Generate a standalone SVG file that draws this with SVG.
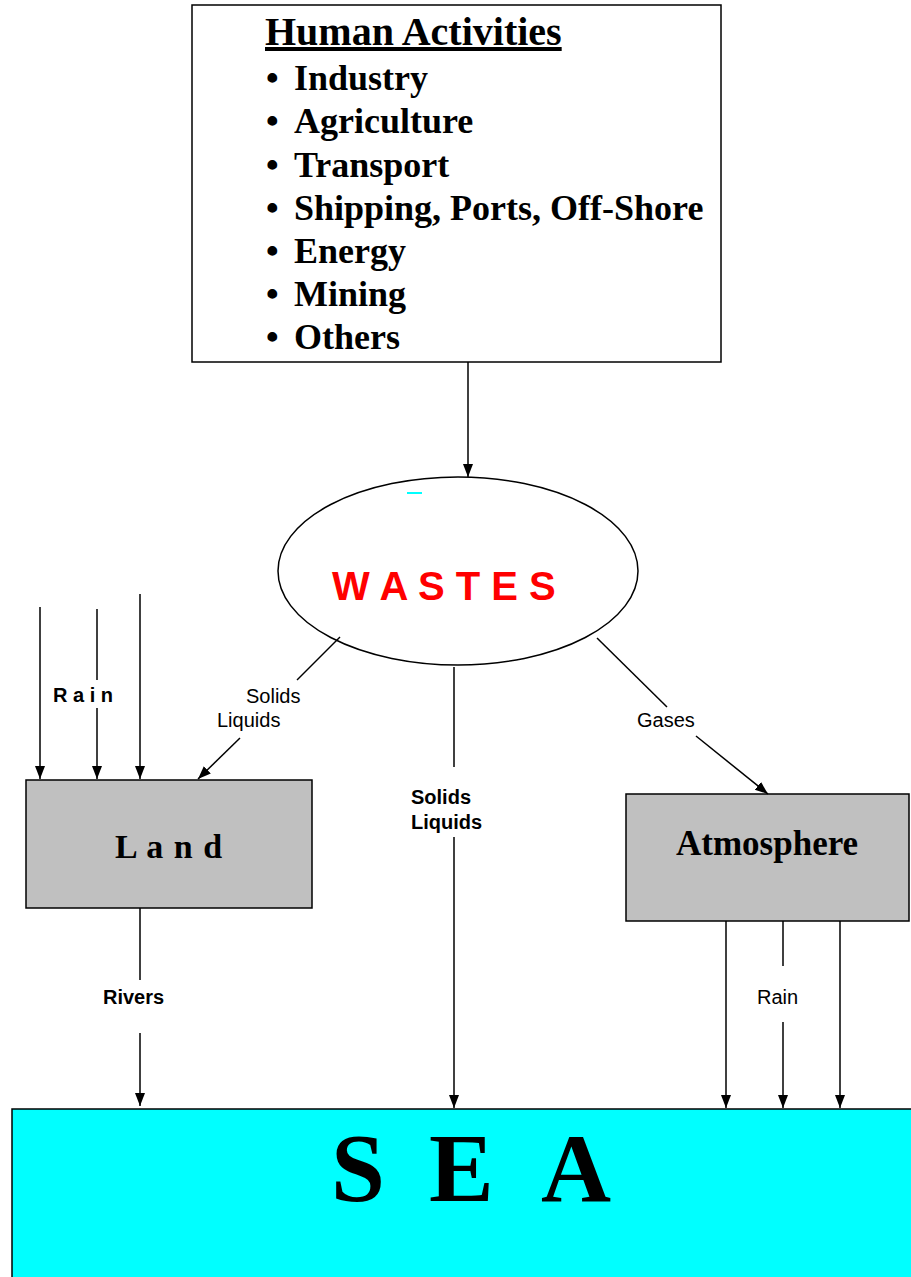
<svg xmlns="http://www.w3.org/2000/svg" width="911" height="1277" viewBox="0 0 911 1277">
<style>
.serif{font-family:"Liberation Serif","Times New Roman",serif;font-weight:bold;fill:#000}
.sans{font-family:"Liberation Sans",Arial,sans-serif;fill:#000}
.b{font-weight:bold}
.ln{stroke:#000;stroke-width:1.5;fill:none}
.box{stroke:#000;stroke-width:1.5}
</style>
<defs>
<marker id="ah" markerUnits="userSpaceOnUse" markerWidth="14" markerHeight="12" refX="13" refY="5" orient="auto">
<path d="M0,0 L13,5 L0,10 z" fill="#000"/>
</marker>
</defs>
<rect width="911" height="1277" fill="#fff"/>

<g id="human-activities">
<rect x="192" y="5" width="529" height="357" fill="#fff" class="box"/>
<text class="serif" x="265" y="45" font-size="40" text-decoration="underline">Human Activities</text>
<g class="serif" font-size="36">
<text x="266" y="90">•</text><text x="294" y="90">Industry</text>
<text x="266" y="133">•</text><text x="294" y="133">Agriculture</text>
<text x="266" y="177">•</text><text x="294" y="177">Transport</text>
<text x="266" y="220">•</text><text x="294" y="220">Shipping, Ports, Off-Shore</text>
<text x="266" y="263">•</text><text x="294" y="263">Energy</text>
<text x="266" y="306">•</text><text x="294" y="306">Mining</text>
<text x="266" y="349">•</text><text x="294" y="349">Others</text>
</g>
</g>

<g id="wastes">
<ellipse cx="458" cy="571" rx="180" ry="94" fill="#fff" class="box"/>
<line x1="407" y1="493" x2="422" y2="493" stroke="#00FFFF" stroke-width="2"/>
<text class="sans b" x="332" y="600" font-size="40" fill="#FF0000" style="fill:#FF0000">W A S T E S</text>
</g>

<g id="land">
<rect x="26" y="780" width="286" height="128" fill="#C0C0C0" class="box"/>
<text class="serif" x="115" y="858" font-size="34" letter-spacing="1">L a n d</text>
</g>

<g id="atmosphere">
<rect x="626" y="794" width="283" height="127" fill="#C0C0C0" class="box"/>
<text class="serif" x="676" y="855" font-size="35">Atmosphere</text>
</g>

<g id="sea">
<rect x="12" y="1109" width="905" height="175" fill="#00FFFF" class="box"/>
<text class="serif" y="1201" font-size="97"><tspan x="331">S</tspan> <tspan x="429">E</tspan> <tspan x="541">A</tspan></text>
</g>

<g id="connectors">
<line class="ln" x1="468" y1="362" x2="468" y2="477" marker-end="url(#ah)"/>
<!-- rain onto land -->
<line class="ln" x1="40" y1="607" x2="40" y2="779" marker-end="url(#ah)"/>
<line class="ln" x1="97" y1="609" x2="97" y2="680"/>
<line class="ln" x1="97" y1="708" x2="97" y2="779" marker-end="url(#ah)"/>
<line class="ln" x1="140" y1="594" x2="140" y2="779" marker-end="url(#ah)"/>
<text class="sans b" x="53" y="702" font-size="20">R a i n</text>
<!-- wastes to land -->
<line class="ln" x1="340" y1="637" x2="297" y2="680"/>
<line class="ln" x1="240" y1="738" x2="198" y2="779" marker-end="url(#ah)"/>
<text class="sans" x="246" y="703" font-size="20">Solids</text>
<text class="sans" x="217" y="727" font-size="20">Liquids</text>
<!-- wastes to sea -->
<line class="ln" x1="454" y1="667" x2="454" y2="767"/>
<line class="ln" x1="454" y1="837" x2="454" y2="1108" marker-end="url(#ah)"/>
<text class="sans b" x="411" y="804" font-size="20">Solids</text>
<text class="sans b" x="411" y="829" font-size="20">Liquids</text>
<!-- wastes to atmosphere -->
<line class="ln" x1="597" y1="638" x2="667" y2="707"/>
<line class="ln" x1="696" y1="736" x2="768" y2="794" marker-end="url(#ah)"/>
<text class="sans" x="637" y="727" font-size="20">Gases</text>
<!-- land to sea -->
<line class="ln" x1="140" y1="908" x2="140" y2="980"/>
<line class="ln" x1="140" y1="1033" x2="140" y2="1106" marker-end="url(#ah)"/>
<text class="sans b" x="103" y="1004" font-size="20">Rivers</text>
<!-- atmosphere to sea -->
<line class="ln" x1="726" y1="921" x2="726" y2="1108" marker-end="url(#ah)"/>
<line class="ln" x1="783" y1="921" x2="783" y2="966"/>
<line class="ln" x1="783" y1="1022" x2="783" y2="1108" marker-end="url(#ah)"/>
<line class="ln" x1="840" y1="921" x2="840" y2="1108" marker-end="url(#ah)"/>
<text class="sans" x="757" y="1004" font-size="20">Rain</text>
</g>
</svg>
